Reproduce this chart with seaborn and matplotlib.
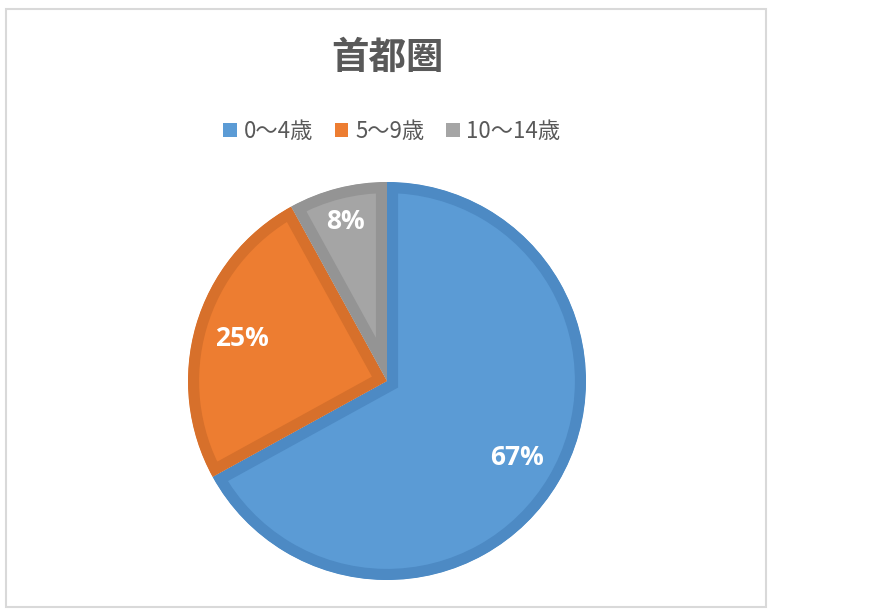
import matplotlib
matplotlib.use('Agg')
import matplotlib.pyplot as plt
import seaborn as sns
from matplotlib.patches import Rectangle

sns.set_theme(style='white')
plt.rcParams['font.family'] = ['Noto Sans CJK JP', 'DejaVu Sans']

# データ
title = '首都圏'
labels = ['0～4歳', '5～9歳', '10～14歳']
values = [67, 25, 8]
fill_colors = ['#5B9BD5', '#ED7D31', '#A5A5A5']
edge_colors = ['#4D8AC4', '#D7702B', '#949494']

W, H = 872, 615
fig = plt.figure(figsize=(W / 100, H / 100), dpi=100)
fig.patch.set_facecolor('white')

# 外枠
fig.patches.append(Rectangle((6 / W, 1 - 607 / H), 760 / W, 598 / H,
                             transform=fig.transFigure, fill=False,
                             edgecolor='#D9D9D9', linewidth=1.5))

cx, cy, r = 387, 381, 199
ax = fig.add_axes([(cx - r) / W, 1 - (cy + r) / H, 2 * r / W, 2 * r / H])

wedges, texts, autotexts = ax.pie(
    values, colors=fill_colors, startangle=90, counterclock=False,
    autopct='%1.0f%%', pctdistance=0.76,
    textprops=dict(color='white', fontsize=19, fontweight='bold',
                   family=['Open Sans', 'DejaVu Sans']))
ax.set_xlim(-1, 1)
ax.set_ylim(-1, 1)
ax.set_aspect('equal')
ax.axis('off')

# 枠線は扇形の内側だけに描く
for w, ec in zip(wedges, edge_colors):
    w.set_edgecolor(ec)
    w.set_linewidth(16)
    w.set_clip_on(True)
    w.set_clip_path(w.get_path(), w.get_transform())

# 8% のラベルは少し外側
x, y = autotexts[2].get_position()
autotexts[2].set_position((x * 0.83 / 0.76, y * 0.83 / 0.76))

fig.text(cx / W, 1 - 57 / H, title, ha='center', va='center',
         fontsize=27, fontweight='bold', color='#595959')

handles = [Rectangle((0, 0), 1, 1, facecolor=c, edgecolor='none') for c in fill_colors]
leg = fig.legend(handles, labels, loc='center', ncol=3,
                 bbox_to_anchor=(392 / W, 1 - 131 / H), frameon=False,
                 fontsize=16, handlelength=0.6, handleheight=0.6,
                 handletextpad=0.3, columnspacing=1.0)
for t in leg.get_texts():
    t.set_color('#595959')

fig.savefig('out.png', dpi=100, facecolor='white')
